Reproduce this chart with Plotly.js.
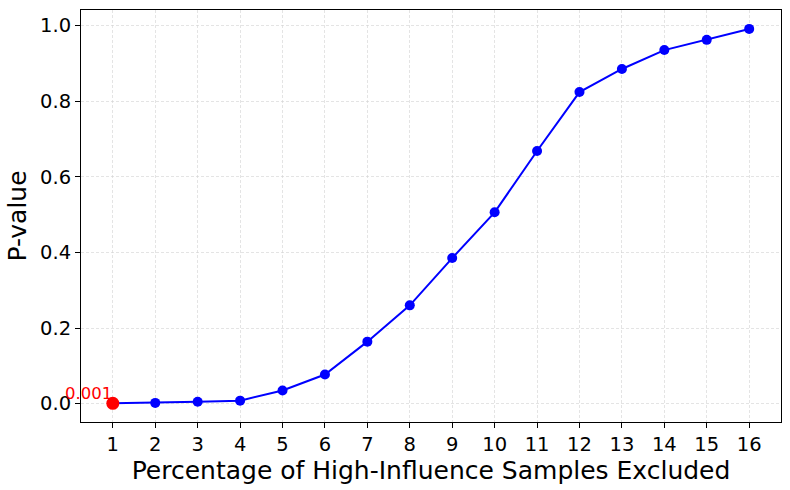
<!DOCTYPE html>
<html>
<head>
<meta charset="utf-8">
<script src="https://cdn.plot.ly/plotly-3.0.1.min.js"></script>
<style>html,body{margin:0;padding:0;background:#fff;}#chart{width:790px;height:490px;}</style>
</head>
<body>
<div id="chart"></div>
<script>
const percentages = [1, 2, 3, 4, 5, 6, 7, 8, 9, 10, 11, 12, 13, 14, 15, 16];
const pValues = [0.001, 0.002, 0.005, 0.008, 0.035, 0.077, 0.164, 0.260, 0.385, 0.506, 0.668, 0.824, 0.885, 0.935, 0.962, 0.991];
const highlightX = [1];
const highlightY = [0.001];
const highlightLabel = ["0.001"];

const font = "DejaVu Sans, sans-serif";

const traces = [
  {
    x: percentages, y: pValues, type: 'scatter', mode: 'lines+markers',
    line: {color: '#0000ff', width: 2},
    marker: {color: '#0000ff', size: 10},
    hoverinfo: 'x+y', showlegend: false
  },
  {
    x: highlightX, y: highlightY, type: 'scatter', mode: 'markers',
    marker: {color: '#ff0000', size: 13},
    showlegend: false
  }
];

const layout = {
  width: 790, height: 490,
  margin: {l: 81, r: 9, t: 10, b: 68},
  paper_bgcolor: '#ffffff', plot_bgcolor: '#ffffff',
  font: {family: font, color: '#000000', size: 19.5},
  xaxis: {
    range: [0.25, 16.75], tickmode: 'array', tickvals: percentages,
    ticktext: percentages.map(String),
    ticks: 'outside', ticklen: 5, tickwidth: 1, tickcolor: '#000',
    showline: true, linecolor: '#000', linewidth: 1, mirror: true,
    showgrid: true, gridcolor: '#d2d2d2', gridwidth: 0.6, griddash: '3px,2px',
    zeroline: false,
    tickfont: {family: font, size: 19.5, color: '#000'},
    title: {text: 'Percentage of High-Influence Samples Excluded', font: {family: font, size: 25, color: '#000'}, standoff: 2}
  },
  yaxis: {
    range: [-0.0485, 1.041], tickmode: 'array', tickvals: [0, 0.2, 0.4, 0.6, 0.8, 1.0],
    ticktext: ['0.0', '0.2', '0.4', '0.6', '0.8', '1.0'],
    ticks: 'outside', ticklen: 5, tickwidth: 1, tickcolor: '#000',
    showline: true, linecolor: '#000', linewidth: 1, mirror: true,
    showgrid: true, gridcolor: '#d2d2d2', gridwidth: 0.6, griddash: '3px,2px',
    zeroline: false,
    tickfont: {family: font, size: 19.5, color: '#000'},
    title: {text: 'P-value', font: {family: font, size: 25, color: '#000'}, standoff: 6}
  },
  annotations: highlightX.map((x, i) => ({
    x: x, y: highlightY[i], xref: 'x', yref: 'y', text: highlightLabel[i],
    showarrow: false, xanchor: 'right', yanchor: 'bottom', xshift: 1, yshift: -2,
    font: {family: font, size: 16.5, color: '#ff0000'}
  }))
};

Plotly.newPlot('chart', traces, layout, {staticPlot: true, displayModeBar: false});
</script>
</body>
</html>
